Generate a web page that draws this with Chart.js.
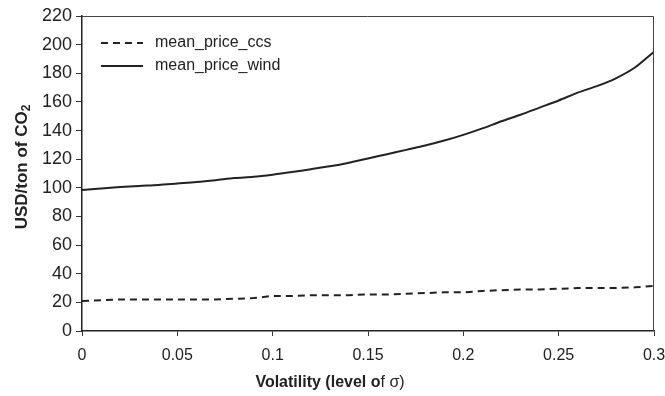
<!DOCTYPE html>
<html>
<head>
<meta charset="utf-8">
<script src="https://cdn.jsdelivr.net/npm/chart.js@4"></script>
<style>
html,body{margin:0;padding:0;background:#fff;}
#wrap{width:665px;height:396px;position:relative;}
</style>
</head>
<body>
<div id="wrap"><canvas id="c" width="665" height="396"></canvas></div>
<script>
const sigma = [0,0.01,0.02,0.03,0.04,0.05,0.06,0.07,0.08,0.09,0.10,0.11,0.12,0.13,0.14,0.15,0.16,0.17,0.18,0.19,0.20,0.21,0.22,0.23,0.24,0.25,0.26,0.27,0.28,0.29,0.30];
const meanPriceCcs = [21,21.5,22,22,22,22,22,22,22.5,23,24.5,24.5,25,25,25,25.5,25.5,26,26.5,27,27,28,28.5,29,29,29.5,30,30,30,30.5,31.5];
const meanPriceWind = [98.5,99.5,100.5,101.3,102,103,104,105.3,106.8,107.7,109.2,111,113,115,117.5,120.5,123.5,126.5,129.5,133,137,141.5,146.5,151,156,161,166.5,171,176.5,184,195];
const seriesLabels = ["mean_price_ccs","mean_price_wind"];
const xTitleBold = "Volatility (level o";
const xTitleRest = "f σ)";
const yTitleMain = "USD/ton of CO";
const yTitleSub = "2";

const FONT = "'Liberation Sans', Arial, sans-serif";
const INK = "#222";

const frame = {
  id: 'frame',
  afterDraw(chart) {
    const {ctx, chartArea: a} = chart;
    ctx.save();
    ctx.strokeStyle = '#444';
    ctx.lineWidth = 1;
    ctx.beginPath();
    ctx.moveTo(a.left, a.top + 0.5);
    ctx.lineTo(a.right - 0.5, a.top + 0.5);
    ctx.lineTo(a.right - 0.5, a.bottom);
    ctx.stroke();
    // legend
    const items = chart.data.datasets;
    ctx.font = '16px ' + FONT;
    ctx.textBaseline = 'middle';
    ctx.textAlign = 'left';
    items.forEach((ds, i) => {
      const y = 43 + i * 23;
      ctx.strokeStyle = ds.borderColor;
      ctx.lineWidth = ds.borderWidth;
      ctx.setLineDash(ds.borderDash || []);
      ctx.beginPath();
      ctx.moveTo(101, y);
      ctx.lineTo(143, y);
      ctx.stroke();
      ctx.setLineDash([]);
      ctx.fillStyle = INK;
      ctx.fillText(ds.label, 155, y);
    });
    // x title (mixed weight as in original)
    ctx.fillStyle = INK;
    ctx.textBaseline = 'middle';
    const fb = 'bold 16px ' + FONT, fn = '16px ' + FONT;
    ctx.font = fb; const w1 = ctx.measureText(xTitleBold).width;
    ctx.font = fn; const w2 = ctx.measureText(xTitleRest).width;
    let x0 = 330 - (w1 + w2) / 2;
    ctx.font = fb; ctx.fillText(xTitleBold, x0, 383);
    ctx.font = fn; ctx.fillText(xTitleRest, x0 + w1, 383);
    // y title with subscript
    ctx.translate(22, 167);
    ctx.rotate(-Math.PI / 2);
    const fy = 'bold 17px ' + FONT, fs = 'bold 12px ' + FONT;
    ctx.font = fy; const m1 = ctx.measureText(yTitleMain).width;
    ctx.font = fs; const m2 = ctx.measureText(yTitleSub).width;
    const sx = -(m1 + m2) / 2;
    ctx.font = fy; ctx.fillText(yTitleMain, sx, 0);
    ctx.font = fs; ctx.fillText(yTitleSub, sx + m1, 5);
    ctx.restore();
  }
};

new Chart(document.getElementById('c'), {
  type: 'line',
  data: {
    datasets: [
      { label: seriesLabels[0], data: sigma.map((s, i) => ({x: s, y: meanPriceCcs[i]})),
        borderColor: INK, borderWidth: 2, borderDash: [7, 5], pointRadius: 0, tension: 0 },
      { label: seriesLabels[1], data: sigma.map((s, i) => ({x: s, y: meanPriceWind[i]})),
        borderColor: INK, borderWidth: 2, pointRadius: 0, tension: 0.3 }
    ]
  },
  options: {
    responsive: false,
    animation: false,
    layout: { padding: { top: 16, right: 11, left: 0, bottom: 0 } },
    plugins: { legend: { display: false }, tooltip: { enabled: false } },
    scales: {
      x: {
        type: 'linear', min: 0, max: 0.3,
        afterFit(s) { s.height = 65; s.paddingLeft = 0; s.paddingRight = 0; },
        ticks: { stepSize: 0.05, color: INK, font: { family: FONT, size: 16 }, padding: 10, maxRotation: 0,
          callback: v => String(Number(v.toFixed(2))) },
        grid: { drawOnChartArea: false, tickLength: 5, color: '#333' },
        border: { color: '#222', width: 1.5 },
        title: { display: false }
      },
      y: {
        min: 0, max: 220,
        afterFit(s) { s.width = 82; s.paddingTop = 0; s.paddingBottom = 0; },
        ticks: { stepSize: 20, color: INK, font: { family: FONT, size: 18 }, padding: 4 },
        grid: { drawOnChartArea: false, tickLength: 6, color: '#333' },
        border: { color: '#222', width: 1.5 },
        title: { display: false }
      }
    }
  },
  plugins: [frame]
});
</script>
</body>
</html>
